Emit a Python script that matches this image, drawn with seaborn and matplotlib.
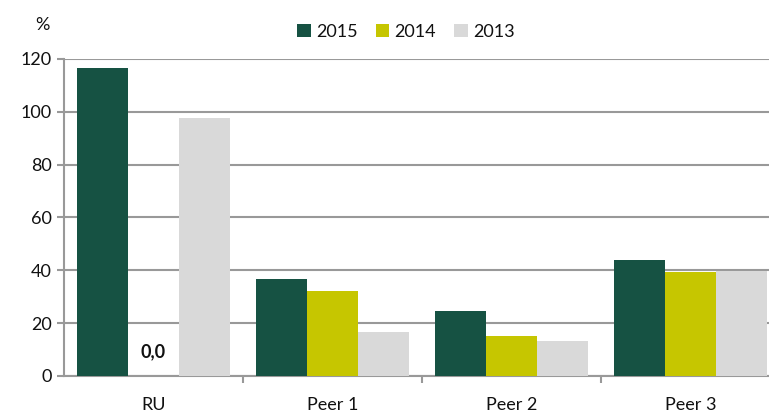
import numpy as np
import pandas as pd
import matplotlib.pyplot as plt
import seaborn as sns
from matplotlib.ticker import FixedLocator

categories = ['RU', 'Peer 1', 'Peer 2', 'Peer 3']
years = ['2015', '2014', '2013']
vals_2015 = [116.5, 36.8, 24.6, 43.9]
vals_2014 = [0.0, 32.2, 15.1, 39.4]
vals_2013 = [97.7, 16.5, 13.2, 39.7]
colors = ['#165243', '#c6c600', '#d9d9d9']

rows = []
for yr, vals in zip(years, [vals_2015, vals_2014, vals_2013]):
    for cat, v in zip(categories, vals):
        rows.append({'cat': cat, 'year': yr, 'val': v})
df = pd.DataFrame(rows)

sns.set_style('white')
plt.rcParams['font.family'] = ['Lato', 'DejaVu Sans']

fig = plt.figure(figsize=(7.69, 4.12), dpi=100)
ax = fig.add_axes([0.0832, 0.0874, 0.9168, 0.7695])

sns.barplot(data=df, x='cat', y='val', hue='year', hue_order=years,
            palette=colors, width=0.855, gap=0, saturation=1,
            errorbar=None, linewidth=0, ax=ax, zorder=3)

ax.set_ylim(0, 120)
ax.set_xlim(-0.5, 3.44)
ax.set_yticks(np.arange(0, 121, 20))
ax.yaxis.grid(True, color='#999999', linewidth=1.5, zorder=0)
ax.set_axisbelow(True)
ax.set_xlabel('')
ax.set_ylabel('')

for s in ['top', 'right']:
    ax.spines[s].set_visible(False)
for s in ['left', 'bottom']:
    ax.spines[s].set_color('#999999')
    ax.spines[s].set_linewidth(1.5)

ax.tick_params(axis='y', which='major', length=5, width=1.5, color='#999999',
               labelsize=13, pad=4, left=True, labelcolor='#111111')
ax.tick_params(axis='x', which='major', length=0, labelsize=13, pad=15,
               labelcolor='#111111')
ax.xaxis.set_minor_locator(FixedLocator([0.5, 1.5, 2.5]))
ax.tick_params(axis='x', which='minor', length=5, width=1.5, color='#999999',
               bottom=True)

# zero value label for RU 2014
ax.text(0, 9, '0,0', ha='center', va='center', fontsize=13, fontweight='bold',
        color='#111111')

fig.text(0.055, 0.94, '%', fontsize=13, ha='center', va='center',
         color='#111111')

handles, labels = ax.get_legend_handles_labels()
leg = ax.legend(handles, labels, loc='center', bbox_to_anchor=(0.528, 0.922),
                bbox_transform=fig.transFigure, ncol=3, frameon=False,
                fontsize=13, handlelength=0.75, handleheight=0.75,
                handletextpad=0.3, columnspacing=1.0)
for t in leg.get_texts():
    t.set_color('#111111')

fig.savefig('out.png', dpi=100)
